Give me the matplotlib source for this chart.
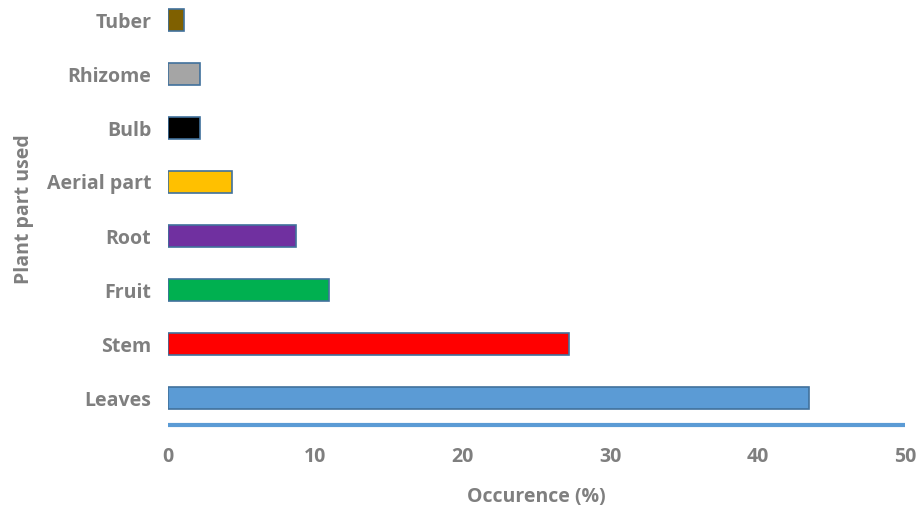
import matplotlib
matplotlib.use("Agg")
import matplotlib.pyplot as plt

categories = ["Leaves", "Stem", "Fruit", "Root", "Aerial part", "Bulb", "Rhizome", "Tuber"]
occurrence = [43.5, 27.2, 10.9, 8.7, 4.35, 2.17, 2.17, 1.09]
colors = ["#5b9bd5", "#ff0000", "#00b050", "#7030a0", "#ffc000", "#000000", "#a5a5a5", "#7f6000"]
xticks = [0, 10, 20, 30, 40, 50]

plt.rcParams['font.family'] = ['Open Sans', 'DejaVu Sans']
grey = "#7f7f7f"
fs = 14

fig = plt.figure(figsize=(9.21, 5.13), dpi=100)
ax = fig.add_axes([168/921, 88/513, (905-168)/921, 432/513])

ypos = list(range(len(categories)))
ax.barh(ypos, occurrence, height=0.4, color=colors, edgecolor="#41719c", linewidth=1.2)
ax.set_xlim(0, 50)
ax.set_ylim(-0.5, 7.5)
ax.set_yticks(ypos)
ax.set_yticklabels(categories, fontsize=fs, fontweight="bold", color=grey)
ax.set_xticks(xticks)
ax.set_xticklabels([str(t) for t in xticks], fontsize=fs, fontweight="bold", color=grey)
ax.tick_params(axis="both", length=0)
ax.tick_params(axis="x", pad=16)
ax.tick_params(axis="y", pad=12)
for s in ["top", "right", "left"]:
    ax.spines[s].set_visible(False)
ax.spines["bottom"].set_color("#5b9bd5")
ax.spines["bottom"].set_linewidth(3)
ax.spines["bottom"].set_capstyle("butt")
ax.set_xlabel("Occurence (%)", fontsize=fs, fontweight="bold", color=grey, labelpad=14)
ax.set_ylabel("Plant part used", fontsize=fs, fontweight="bold", color=grey)
ax.yaxis.set_label_coords(-0.182, 0.5)

fig.savefig("out.png", dpi=100)
